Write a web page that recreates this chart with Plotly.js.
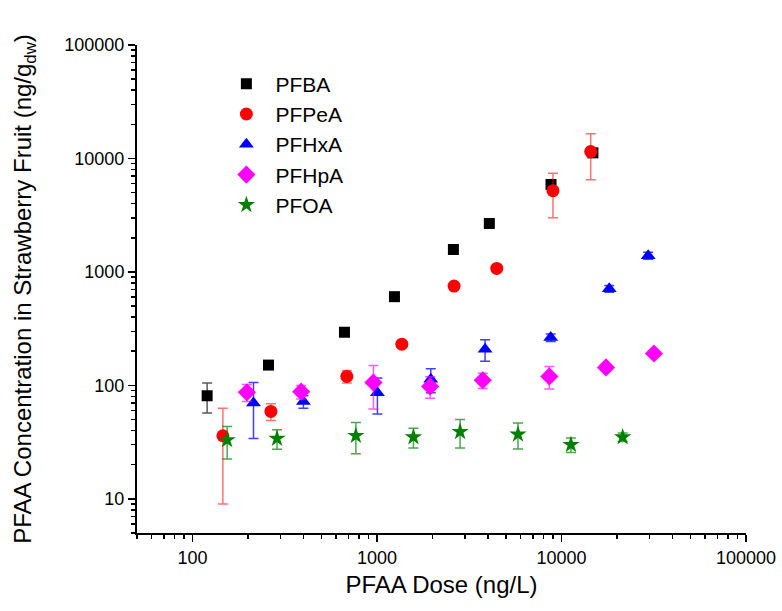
<!DOCTYPE html>
<html>
<head>
<meta charset="utf-8">
<script src="https://cdn.plot.ly/plotly-3.0.1.min.js"></script>
<style>html,body{margin:0;padding:0;background:#fff;}#chart{width:782px;height:611px;}</style>
</head>
<body>
<div id="chart"></div>
<script>
// ---- data ----
const seriesNames = ["PFBA", "PFPeA", "PFHxA", "PFHpA", "PFOA"];

const pfbaDose = [120, 258, 666, 1243, 2594, 4062, 8770, 14800];
const pfbaConc = [81, 151, 294, 605, 1577, 2670, 5900, 11200];
const pfbaSd   = [24, 0, 0, 0, 0, 0, 0, 0];

const pfpeaDose = [146, 266, 686, 1363, 2616, 4456, 8990, 14400];
const pfpeaConc = [36, 59, 120, 231, 750, 1074, 5200, 11500];
const pfpeaSd   = [27, 10, 15, 0, 0, 0, 2200, 5000];

const pfhxaDose = [214, 399, 1005, 1956, 3852, 8740, 18150, 29500];
const pfhxaConc = [70, 72, 86, 113, 208, 264, 711, 1390];
const pfhxaSd   = [36, 9, 30, 27, 45, 20, 50, 100];

const pfhpaDose = [197, 388, 956, 1940, 3742, 8590, 17420, 31700];
const pfhpaConc = [87, 88, 106, 98, 111, 120, 144, 191];
const pfhpaSd   = [15, 12, 44, 21, 17, 27, 10, 5];

const pfoaDose = [154, 287, 768, 1575, 2820, 5810, 11250, 21450];
const pfoaConc = [33, 34, 36, 35, 39, 37, 30, 35];
const pfoaSd   = [10.5, 6.7, 11, 7, 11, 9.5, 4.4, 3];

const xTickVals = [100, 1000, 10000, 100000];
const xTickText = ["100", "1000", "10000", "100000"];
const yTickVals = [10, 100, 1000, 10000, 100000];
const yTickText = ["10", "100", "1000", "10000", "100000"];
const minorDigits = [2, 3, 4, 5, 6, 7, 8, 9];
const decades = [1, 10, 100, 1000, 10000];

// minor tick positions (2..9 within each decade)
const minorVals = [];
decades.forEach(d => minorDigits.forEach(k => minorVals.push(k * d)));

// ---- styling ----
const styles = [
  {symbol: "square", color: "#000000", size: 11, err: "rgba(0,0,0,0.65)"},
  {symbol: "circle", color: "#ff0000", size: 13, err: "rgba(255,0,0,0.55)"},
  {symbol: "triangle-up", color: "#0000ff", size: 13, err: "rgba(0,0,255,0.75)"},
  {symbol: "diamond", color: "#ff00ff", size: 14, err: "rgba(255,0,255,0.65)"},
  {symbol: "star", color: "#008000", size: 13, err: "rgba(0,128,0,0.7)"}
];
const xs = [pfbaDose, pfpeaDose, pfhxaDose, pfhpaDose, pfoaDose];
const ys = [pfbaConc, pfpeaConc, pfhxaConc, pfhpaConc, pfoaConc];
const es = [pfbaSd, pfpeaSd, pfhxaSd, pfhpaSd, pfoaSd];

const traces = seriesNames.map((n, i) => ({
  type: "scatter",
  mode: "markers",
  name: n,
  x: xs[i],
  y: ys[i],
  error_y: {type: "data", array: es[i], visible: true, color: styles[i].err, thickness: 1.5, width: 5},
  marker: {symbol: styles[i].symbol, color: styles[i].color, size: styles[i].size, line: {width: 0}}
}));

const font = "Liberation Sans, Arial, sans-serif";
const minorCfg = {tickmode: "array", tickvals: minorVals, ticks: "outside", ticklen: 4, tickwidth: 1.5, tickcolor: "#000", showgrid: false};
const layout = {
  width: 782, height: 611,
  margin: {l: 137, r: 36, t: 45, b: 78},
  paper_bgcolor: "#fff", plot_bgcolor: "#fff",
  font: {family: font, color: "#000", size: 18},
  showlegend: true,
  legend: {x: 0.132, y: 0.962, xanchor: "left", yanchor: "top",
           font: {family: font, size: 21, color: "#000"}, bgcolor: "rgba(0,0,0,0)", itemwidth: 48},
  xaxis: {
    type: "log", range: [Math.log10(50), 5],
    tickmode: "array", tickvals: xTickVals, ticktext: xTickText,
    ticks: "outside", ticklen: 7, tickwidth: 1.5, tickcolor: "#000",
    showline: true, linecolor: "#000", linewidth: 2, mirror: false,
    showgrid: false, zeroline: false,
    minor: minorCfg,
    tickfont: {size: 18, family: font},
    title: {text: "PFAA Dose (ng/L)", font: {size: 24, family: font}, standoff: 10}
  },
  yaxis: {
    type: "log", range: [Math.log10(5), 5],
    tickmode: "array", tickvals: yTickVals, ticktext: yTickText,
    ticks: "outside", ticklen: 7, tickwidth: 1.5, tickcolor: "#000",
    showline: true, linecolor: "#000", linewidth: 2, mirror: false,
    showgrid: false, zeroline: false,
    minor: minorCfg,
    tickfont: {size: 18, family: font},
    title: {text: "PFAA Concentration in Strawberry Fruit (ng/g<sub>dw</sub>)", font: {size: 24, family: font}, standoff: 26}
  }
};

Plotly.newPlot("chart", traces, layout, {displayModeBar: false, staticPlot: true});
</script>
</body>
</html>
